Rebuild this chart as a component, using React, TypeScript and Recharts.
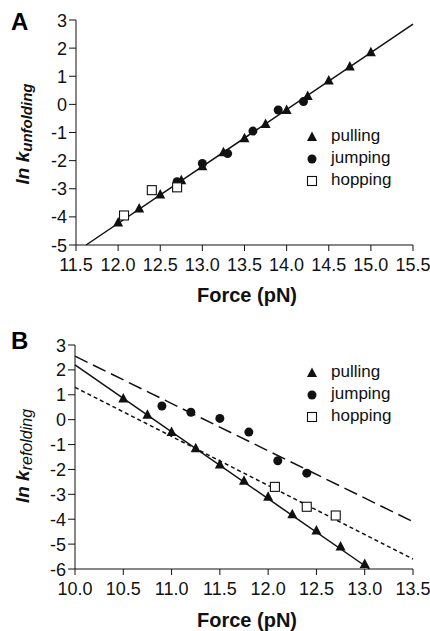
import React from "react";
import { ScatterChart, Scatter, XAxis, YAxis } from "recharts";

// panel A: unfolding
const pullingA = [
  { x: 12.0, y: -4.2 }, { x: 12.25, y: -3.7 }, { x: 12.5, y: -3.2 }, { x: 12.75, y: -2.7 },
  { x: 13.0, y: -2.2 }, { x: 13.25, y: -1.7 }, { x: 13.5, y: -1.2 }, { x: 13.75, y: -0.7 },
  { x: 14.0, y: -0.2 }, { x: 14.25, y: 0.3 }, { x: 14.5, y: 0.85 }, { x: 14.75, y: 1.35 },
  { x: 15.0, y: 1.85 },
];
const jumpingA = [
  { x: 12.7, y: -2.75 }, { x: 13.0, y: -2.1 }, { x: 13.3, y: -1.75 },
  { x: 13.6, y: -0.95 }, { x: 13.9, y: -0.2 }, { x: 14.2, y: 0.1 },
];
const hoppingA = [{ x: 12.07, y: -3.95 }, { x: 12.4, y: -3.05 }, { x: 12.7, y: -2.95 }];
const fitA = [{ x: 11.62, y: -5 }, { x: 15.5, y: 2.85 }];
const forceTicksA = [11.5, 12, 12.5, 13, 13.5, 14, 14.5, 15, 15.5];
const lnTicksA = [-5, -4, -3, -2, -1, 0, 1, 2, 3];

// panel B: refolding
const pullingB = [
  { x: 10.5, y: 0.85 }, { x: 10.75, y: 0.2 }, { x: 11.0, y: -0.5 }, { x: 11.25, y: -1.15 },
  { x: 11.5, y: -1.8 }, { x: 11.75, y: -2.45 }, { x: 12.0, y: -3.1 }, { x: 12.25, y: -3.8 },
  { x: 12.5, y: -4.45 }, { x: 12.75, y: -5.1 }, { x: 13.0, y: -5.8 },
];
const jumpingB = [
  { x: 10.9, y: 0.55 }, { x: 11.2, y: 0.3 }, { x: 11.5, y: 0.05 },
  { x: 11.8, y: -0.5 }, { x: 12.1, y: -1.65 }, { x: 12.4, y: -2.15 },
];
const hoppingB = [{ x: 12.07, y: -2.7 }, { x: 12.4, y: -3.5 }, { x: 12.7, y: -3.85 }];
const fitPullB = [{ x: 10.0, y: 2.2 }, { x: 13.05, y: -6 }];
const fitJumpB = [{ x: 10.0, y: 2.55 }, { x: 13.5, y: -4.1 }];
const fitHopB = [{ x: 10.0, y: 1.3 }, { x: 13.5, y: -5.6 }];
const forceTicksB = [10, 10.5, 11, 11.5, 12, 12.5, 13, 13.5];
const lnTicksB = [-6, -5, -4, -3, -2, -1, 0, 1, 2, 3];

const methods = ["pulling", "jumping", "hopping"];

const FONT = "Liberation Sans, Arial, sans-serif";
const INK = "#111";

const Triangle = (p: any) => (
  <polygon points={`${p.cx},${p.cy - 5.5} ${p.cx - 5},${p.cy + 4} ${p.cx + 5},${p.cy + 4}`} fill={INK} />
);
const Dot = (p: any) => <circle cx={p.cx} cy={p.cy} r={4.5} fill={INK} />;
const Square = (p: any) => (
  <rect x={p.cx - 4.5} y={p.cy - 4.5} width={9} height={9} fill="#fff" stroke={INK} strokeWidth={1.1} />
);
const NoMark = () => <g />;
const shapes = [Triangle, Dot, Square];

const axisLine = { stroke: INK, strokeWidth: 1 };
const tickFont = { fontFamily: FONT, fontSize: "18px", fill: INK };

const XTick = (p: any) => (
  <text x={p.x} y={p.y} dy={20} textAnchor="middle" style={tickFont}>
    {p.payload.value.toFixed(1)}
  </text>
);
const YTick = (p: any) => (
  <text x={p.x} y={p.y} dy={6.5} dx={-2} textAnchor="end" style={tickFont}>
    {p.payload.value}
  </text>
);

function LegendBox({ left, top }: { left: number; top: number }) {
  return (
    <div style={{ position: "absolute", left, top, fontFamily: FONT, fontSize: 17, color: INK }}>
      {methods.map((m, i) => {
        const Shape = shapes[i];
        return (
          <div key={m} style={{ display: "flex", alignItems: "center", height: 22 }}>
            <svg width={18} height={20}>
              <Shape cx={9} cy={11} />
            </svg>
            <span style={{ marginLeft: 10 }}>{m}</span>
          </div>
        );
      })}
    </div>
  );
}

function YLabel({ x, y, sub, subBold }: { x: number; y: number; sub: string; subBold?: boolean }) {
  return (
    <text transform={`translate(${x},${y}) rotate(-90)`} textAnchor="middle" fontFamily={FONT} fill={INK} fontStyle="italic">
      <tspan fontSize={19} fontWeight="bold">ln k</tspan>
      <tspan fontSize={subBold ? 15 : 16} fontWeight={subBold ? "bold" : "normal"} dy={3}>{sub}</tspan>
    </text>
  );
}

function XLabel({ x, y }: { x: number; y: number }) {
  return (
    <text x={x} y={y} textAnchor="middle" fontFamily={FONT} fontSize={20} fontWeight="bold" fill={INK}>
      Force (pN)
    </text>
  );
}

export default function App() {
  return (
    <div style={{ position: "absolute", left: 0, top: 0, width: 430, height: 631, background: "#fff" }}>
      <div style={{ position: "absolute", left: 0, top: 0 }}>
        <ScatterChart width={430} height={310} margin={{ top: 20, right: 17, left: 0, bottom: 0 }}>
          <XAxis
            type="number" dataKey="x" domain={[11.5, 15.5]} ticks={forceTicksA}
            height={65} tickSize={6} tickMargin={0}
            tick={XTick} axisLine={axisLine} tickLine={axisLine} interval={0}
            label={{ content: () => <XLabel x={247} y={302} /> }}
          />
          <YAxis
            type="number" dataKey="y" domain={[-5, 3]} ticks={lnTicksA} width={76}
            tickSize={7} tickMargin={0} tick={YTick} axisLine={axisLine} tickLine={axisLine} interval={0}
            label={{ content: () => <YLabel x={29} y={134} sub="unfolding" subBold /> }}
          />
          <Scatter data={fitA} shape={NoMark} line={{ stroke: INK, strokeWidth: 1.5 }} isAnimationActive={false} />
          <Scatter data={pullingA} shape={Triangle} isAnimationActive={false} />
          <Scatter data={jumpingA} shape={Dot} isAnimationActive={false} />
          <Scatter data={hoppingA} shape={Square} isAnimationActive={false} />
        </ScatterChart>
        <LegendBox left={303} top={125} />
        <div style={{ position: "absolute", left: 11, top: 8, fontFamily: FONT, fontSize: 24, fontWeight: "bold" }}>A</div>
      </div>
      <div style={{ position: "absolute", left: 0, top: 310 }}>
        <ScatterChart width={430} height={321} margin={{ top: 35, right: 17, left: 0, bottom: 0 }}>
          <XAxis
            type="number" dataKey="x" domain={[10, 13.5]} ticks={forceTicksB}
            height={62} tickSize={6} tickMargin={0}
            tick={XTick} axisLine={axisLine} tickLine={axisLine} interval={0}
            label={{ content: () => <XLabel x={247} y={317} /> }}
          />
          <YAxis
            type="number" dataKey="y" domain={[-6, 3]} ticks={lnTicksB} width={75}
            tickSize={7} tickMargin={0} tick={YTick} axisLine={axisLine} tickLine={axisLine} interval={0}
            label={{ content: () => <YLabel x={29} y={146} sub="refolding" /> }}
          />
          <Scatter data={fitJumpB} shape={NoMark} line={{ stroke: INK, strokeWidth: 1.5, strokeDasharray: "14 6" }} isAnimationActive={false} />
          <Scatter data={fitHopB} shape={NoMark} line={{ stroke: INK, strokeWidth: 1.5, strokeDasharray: "4 3" }} isAnimationActive={false} />
          <Scatter data={fitPullB} shape={NoMark} line={{ stroke: INK, strokeWidth: 1.5 }} isAnimationActive={false} />
          <Scatter data={pullingB} shape={Triangle} isAnimationActive={false} />
          <Scatter data={jumpingB} shape={Dot} isAnimationActive={false} />
          <Scatter data={hoppingB} shape={Square} isAnimationActive={false} />
        </ScatterChart>
        <LegendBox left={303} top={51} />
        <div style={{ position: "absolute", left: 11, top: 17, fontFamily: FONT, fontSize: 24, fontWeight: "bold" }}>B</div>
      </div>
    </div>
  );
}
